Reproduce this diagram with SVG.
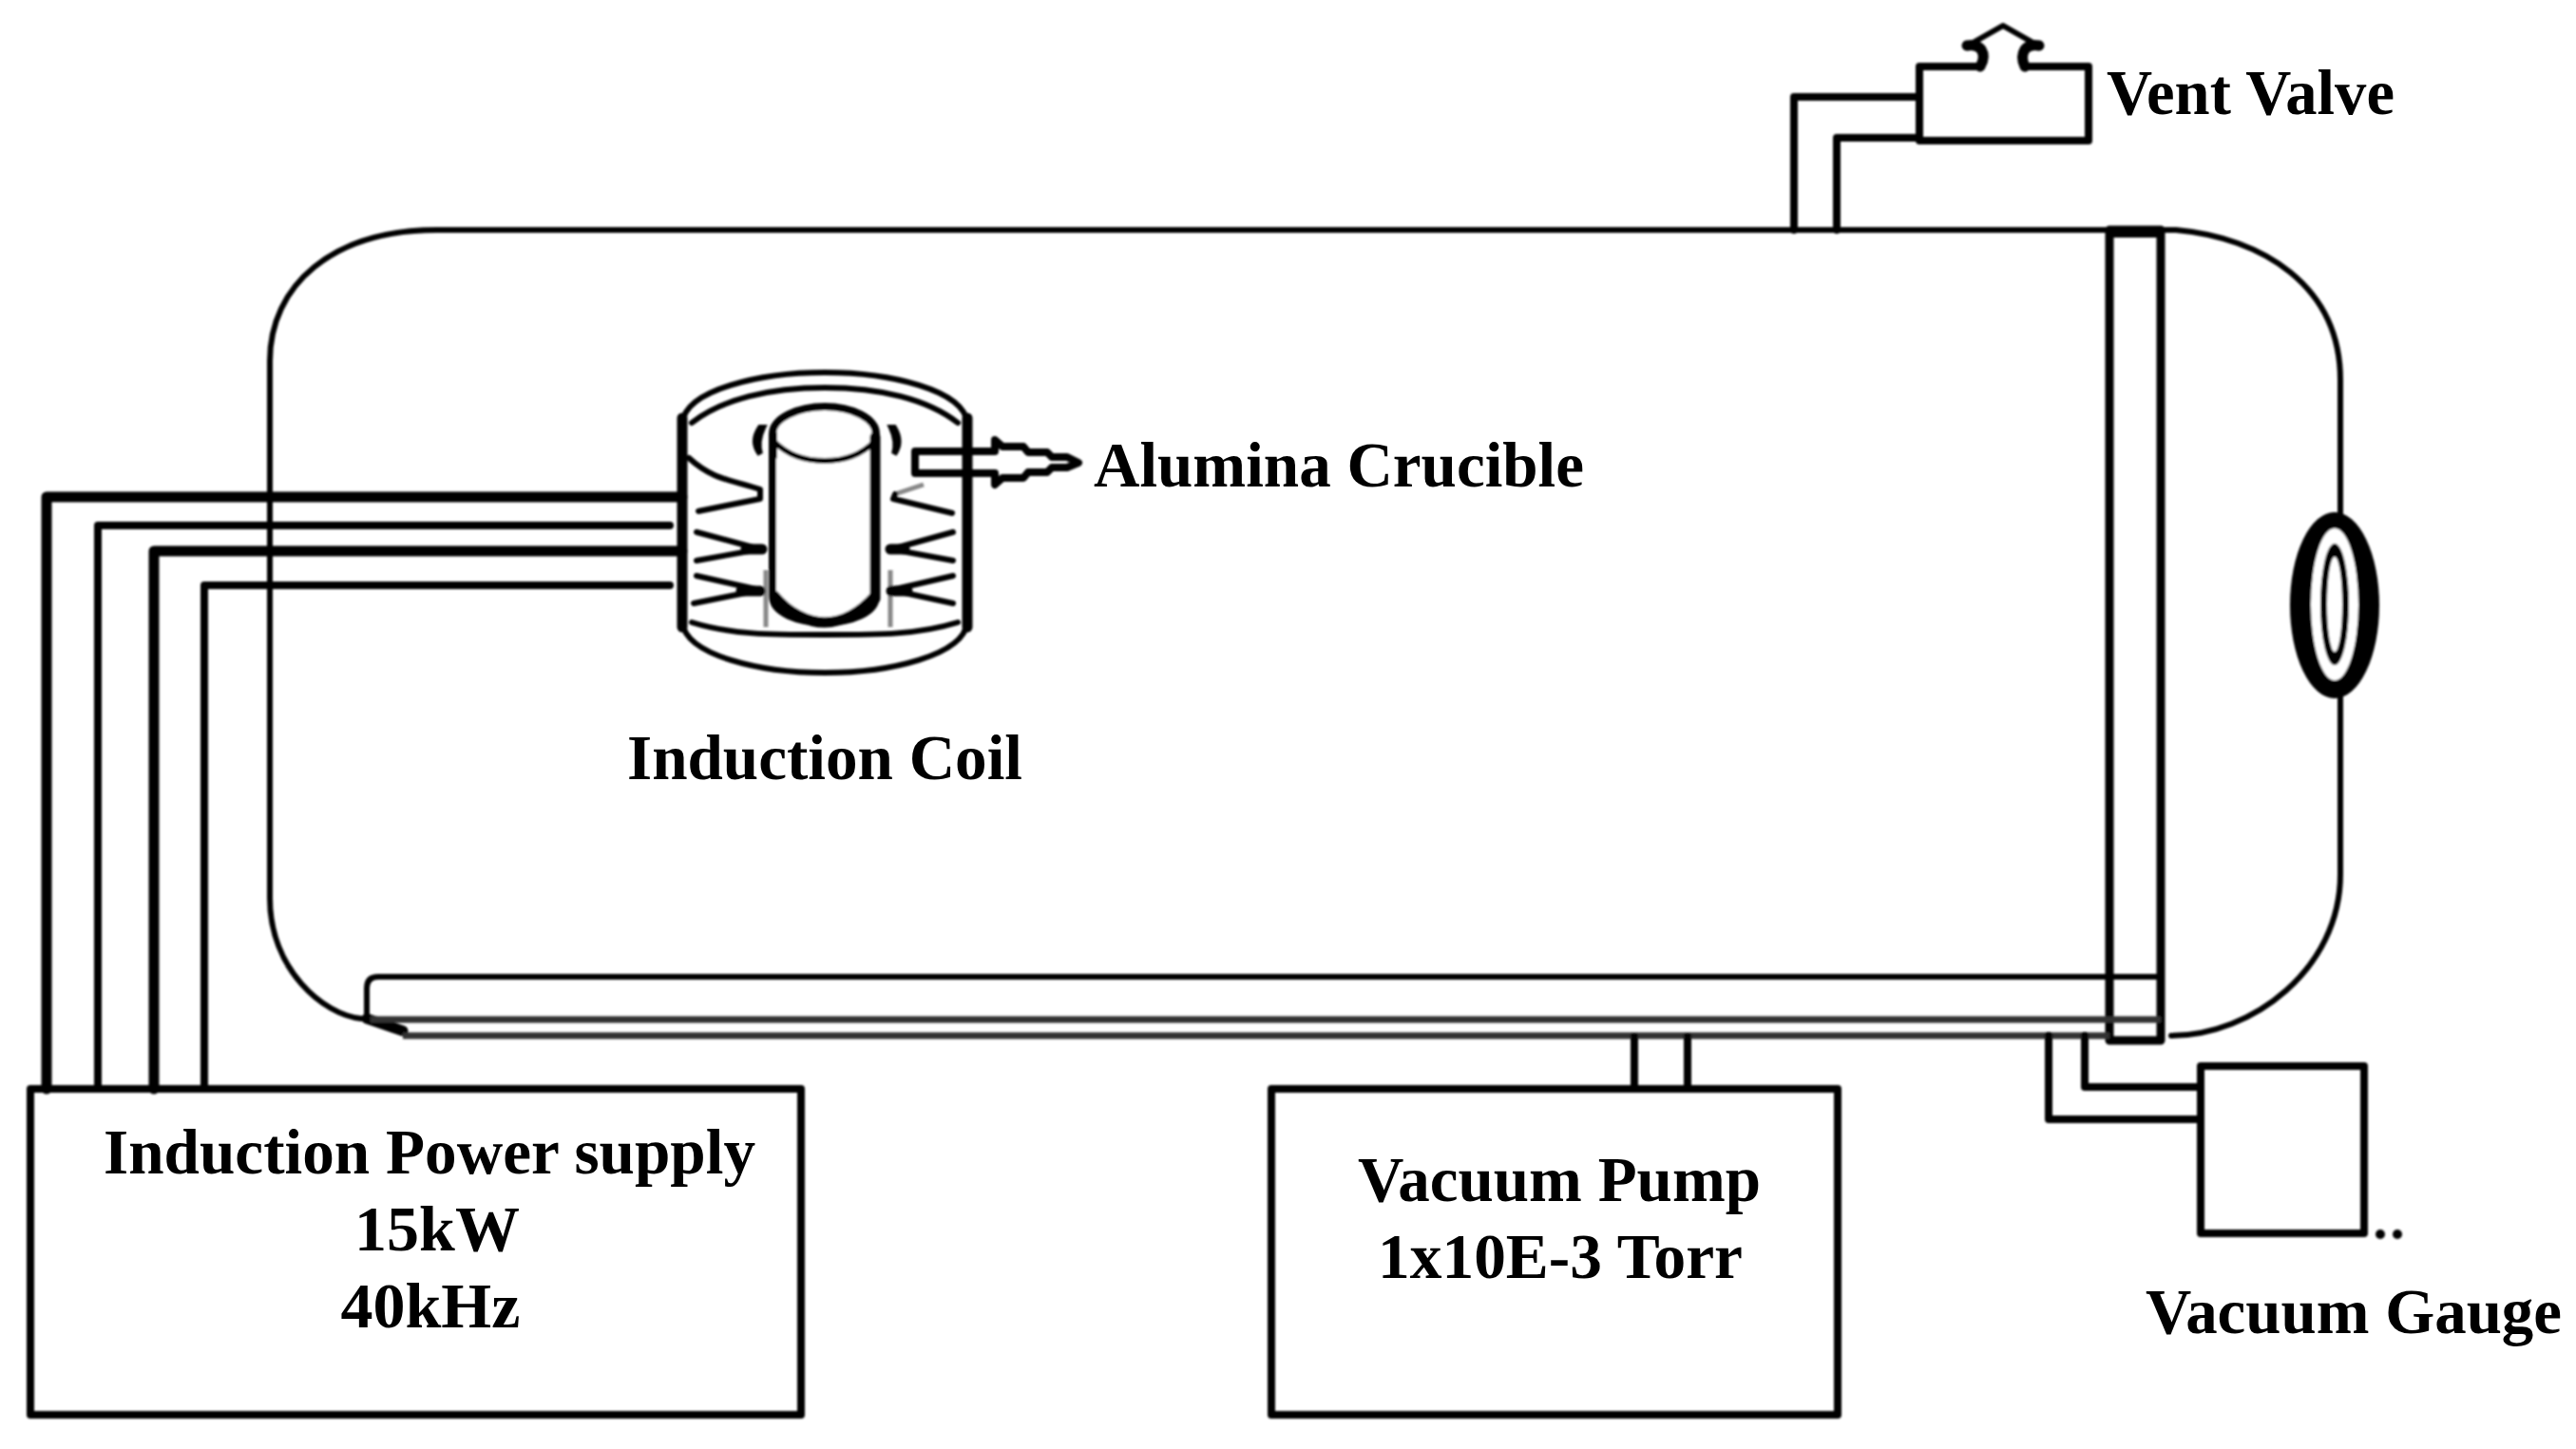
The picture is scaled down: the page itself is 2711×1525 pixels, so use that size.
<svg xmlns="http://www.w3.org/2000/svg" width="2711" height="1525" viewBox="0 0 2711 1525">
<style>
.l{fill:none;stroke:#000;stroke-width:8;stroke-linecap:round;stroke-linejoin:round}
.t{stroke-width:11}
.p{stroke-width:9}
.m{stroke-width:6}
.g{fill:none;stroke:#333;stroke-width:7}
.s{fill:none;stroke:#888;stroke-width:5}
.f{fill:#fff}
text{font-family:"Liberation Serif","Times New Roman",serif;font-weight:bold;font-size:68px;fill:#000}
</style>
<defs><filter id="b" x="-5%" y="-5%" width="110%" height="110%"><feGaussianBlur stdDeviation="1.1"/></filter></defs>
<rect width="2711" height="1525" fill="#fff"/>
<g filter="url(#b)">
<g id="vessel">
<path class="l m" d="M2276 242 H2290 C2380 250 2463 300 2463 400 V545 M2463 730 V920 C2463 1020 2370 1090 2285 1090" />
<path class="l m" d="M2220 242 H460 C350 242 284 300 284 380 V945 C284 1020 340 1068 380 1072"/>
</g>
<g id="chamber-pipes">
<path class="l p" d="M2220 1095 V242 H2274 V1095 H2220 V1073"/>
<path class="l" stroke-width="10" d="M2220 246 H2274"/>
<path class="l m" d="M386 1073 V1040 Q386 1028 398 1028 H2274"/>
<path class="l t" d="M386 1072 L424 1085"/>
<path class="g" d="M390 1073 H2274"/>
<path class="g" d="M424 1090 H2220"/>
</g>
<g id="window">
<ellipse cx="2457" cy="637" rx="47" ry="98" fill="#000"/>
<ellipse cx="2457" cy="636" rx="25" ry="80" fill="#fff"/>
<ellipse cx="2457" cy="636" rx="15" ry="64" fill="#000"/>
<ellipse cx="2457" cy="636" rx="8" ry="50" fill="#fff"/>
</g>
<g id="connectors">
<path class="l" d="M1888 242 V102 H2018"/>
<path class="l" d="M1933 242 V145 H2018"/>
<path class="l" d="M2156 1090 V1178 H2316"/>
<path class="l" d="M2194 1090 V1144 H2316"/>
<path class="l" d="M1720 1091 V1146"/>
<path class="l" d="M1776 1091 V1146"/>
<path class="l t" d="M49 1146 V523 H718"/>
<path class="l" d="M103 1146 V553 H705"/>
<path class="l t" d="M162 1146 V580 H718"/>
<path class="l" d="M215 1146 V616 H705"/>
</g>
<g id="vent-valve">
<path class="l" d="M2084 70 H2020 V148 H2198 V70 H2131"/>
<path class="l t" d="M2084 70 Q2090 60 2085 52 Q2080 46 2070 48"/>
<path class="l t" d="M2131 70 Q2126 60 2131 52 Q2136 46 2146 48"/>
<path class="l m" d="M2078 44 L2108 27 L2138 44"/>
</g>
<g id="vacuum-gauge">
<rect class="l" x="2316" y="1122" width="172" height="176"/>
<circle cx="2505" cy="1299" r="5"/><circle cx="2523" cy="1299" r="5"/>
</g>
<g id="power-supply"><rect class="l" x="32" y="1146" width="811" height="343"/></g>
<g id="vacuum-pump"><rect class="l" x="1338" y="1146" width="596" height="343"/></g>
<g id="coil">
<path class="s" d="M806 600 V660 M937 600 V660"/>
<path class="l t" d="M718 440 V660 M1018 440 V660"/>
<path class="l m" d="M718 445 C722 410 800 392 868 392 C936 392 1014 410 1018 445"/>
<path class="l m" d="M728 445 C760 420 810 408 868 408 C926 408 976 420 1008 445"/>
<path class="l m" d="M718 655 C722 690 800 708 868 708 C936 708 1014 690 1018 655"/>
<path class="l m" d="M728 655 C770 668 810 668 868 668 C926 668 966 668 1008 655"/>
<path class="l m" d="M725 482 C750 505 770 505 800 515 L800 525 L735 538"/>
<path class="s" d="M972 510 L942 520"/>
<path class="l m" d="M942 520 L940 525 L1002 540"/>
<path class="l m" d="M733 560 L800 578 L733 590"/>
<path class="l m" d="M1003 560 L938 578 L1003 590"/>
<path class="l m" d="M733 606 L800 621 L730 635"/>
<path class="l m" d="M1003 606 L938 621 L1003 635"/>
<path class="l t" d="M785 578 H802 M937 578 H952 M780 622 H800 M938 622 H955"/>
<path d="M800 450 Q790 465 800 478 Q796 465 803 450 Z" stroke="#000" stroke-width="6"/>
<path d="M941 450 Q950 465 941 478 Q945 465 938 450 Z" stroke="#000" stroke-width="6"/>
</g>
<g id="crucible">
<path class="f l" d="M813 457 C813 440 840 428 868 428 C896 428 922 440 922 457 V627 C922 645 896 655 868 655 C840 655 813 645 813 627 Z"/>
<path class="l m" d="M815 465 C830 480 850 485 868 485 C886 485 905 480 920 465"/>
<path class="l t" d="M921 460 V630 M815 627 C830 645 850 655 868 655 C886 655 905 645 921 627"/>
<path class="l" d="M814 457 V480"/>
</g>
<g id="arrow">
<path class="l" stroke-width="7" d="M963 475 H1047 V463 L1055 470 H1077 L1082 476 H1102 L1107 481 H1123 L1135 487 L1123 492 H1107 L1102 497 H1082 L1077 503 H1055 L1047 510 V498 H963 Z"/>
</g>
</g>
<g id="labels">
<text x="2217" y="120" textLength="303" lengthAdjust="spacingAndGlyphs">Vent Valve</text>
<text x="1151" y="512" textLength="516" lengthAdjust="spacingAndGlyphs">Alumina Crucible</text>
<text x="660" y="820" textLength="416" lengthAdjust="spacingAndGlyphs">Induction Coil</text>
<text x="109" y="1235" textLength="686" lengthAdjust="spacingAndGlyphs">Induction Power supply</text>
<text x="460" y="1316" text-anchor="middle">15kW</text>
<text x="453" y="1397" text-anchor="middle">40kHz</text>
<text x="1429" y="1264" textLength="424" lengthAdjust="spacingAndGlyphs">Vacuum Pump</text>
<text x="1450" y="1345" textLength="384" lengthAdjust="spacingAndGlyphs">1x10E-3 Torr</text>
<text x="2258" y="1403" textLength="438" lengthAdjust="spacingAndGlyphs">Vacuum Gauge</text>
</g>
</svg>
